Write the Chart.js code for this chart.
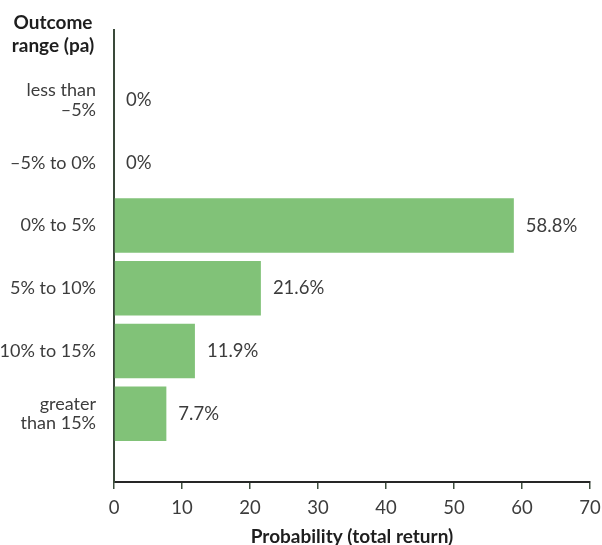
<!DOCTYPE html>
<html>
<head>
<meta charset="utf-8">
<script src="https://cdn.jsdelivr.net/npm/chart.js@4"></script>
<style>
  html, body { margin: 0; padding: 0; background: #fff; }
  #wrap { width: 602px; height: 545px; }
</style>
</head>
<body>
<div id="wrap"><canvas id="outcomeChart"></canvas></div>
<script>
// outcome ranges (top to bottom) and probability of each
const categories = [["less than", "\u20135%"], "\u20135% to 0%", "0% to 5%", "5% to 10%", "10% to 15%", ["greater", "than 15%"]];
const probabilities = [0, 0, 58.8, 21.6, 11.9, 7.7];
const valueLabels = ["0%", "0%", "58.8%", "21.6%", "11.9%", "7.7%"];
const xTicks = [0, 10, 20, 30, 40, 50, 60, 70];
const yTitle = ["Outcome", "range (pa)"];
const xTitle = "Probability (total return)";

const FONT = "Lato, 'Open Sans', sans-serif";
const TEXT = "#3c3c3c";

const barLabels = {
  id: "barLabels",
  afterDatasetsDraw(chart) {
    const ctx = chart.ctx;
    const meta = chart.getDatasetMeta(0);
    ctx.save();
    ctx.font = "18.5px " + FONT;
    ctx.fillStyle = TEXT;
    ctx.textAlign = "left";
    ctx.textBaseline = "middle";
    meta.data.forEach((bar, i) => {
      ctx.fillText(valueLabels[i], bar.x + 12, bar.y);
    });
    ctx.restore();
  },
  afterDraw(chart) {
    // bold heading above the category axis
    const ctx = chart.ctx;
    ctx.save();
    ctx.font = "bold 19px " + FONT;
    ctx.fillStyle = "#1e1e1e";
    ctx.textAlign = "center";
    ctx.textBaseline = "middle";
    ctx.fillText(yTitle[0], 53, 23);
    ctx.fillText(yTitle[1], 53, 46);
    ctx.restore();
  }
};

const ctx = document.getElementById("outcomeChart").getContext("2d");
new Chart(ctx, {
  type: "bar",
  data: {
    datasets: [{
      data: probabilities.map((v, i) => ({ x: v, y: i })),
      backgroundColor: "#81c278",
      borderWidth: 0,
      barPercentage: 1,
      categoryPercentage: 0.87
    }]
  },
  options: {
    indexAxis: "y",
    responsive: true,
    maintainAspectRatio: false,
    animation: false,
    layout: { padding: { top: 30, right: 12, left: 0, bottom: 0 } },
    plugins: {
      legend: { display: false },
      tooltip: { enabled: false }
    },
    scales: {
      x: {
        type: "linear",
        min: 0,
        max: 70,
        afterBuildTicks: (scale) => { scale.ticks = xTicks.map(v => ({ value: v })); },
        afterFit: (scale) => { scale.height = 63; scale.paddingRight = 0; scale.paddingLeft = 0; },
        grid: { drawOnChartArea: false, drawTicks: true, tickLength: 7, tickColor: "#3f4f3f", lineWidth: 1.5 },
        border: { display: true, color: "#262626", width: 2 },
        ticks: { color: TEXT, font: { family: FONT, size: 18.5 }, padding: 8, maxRotation: 0 },
        title: {
          display: true,
          text: xTitle,
          color: "#1e1e1e",
          font: { family: FONT, size: 19, weight: "bold", lineHeight: 1 },
          padding: { top: 0, bottom: -1 }
        }
      },
      y: {
        type: "linear",
        reverse: true,
        offset: false,
        min: -1.12,
        max: 6.09,
        afterBuildTicks: (scale) => { scale.ticks = categories.map((_, i) => ({ value: i })); },
        afterFit: (scale) => { scale.width = 114; scale.paddingTop = 0; scale.paddingBottom = 0; },
        grid: { display: false, drawTicks: false, offset: false },
        border: { display: true, color: "#3a4a3a", width: 2 },
        ticks: {
          color: TEXT,
          font: { family: FONT, size: 18, lineHeight: 1.1 },
          padding: 18,
          callback: (value) => categories[value]
        }
      }
    }
  },
  plugins: [barLabels]
});
</script>
</body>
</html>
